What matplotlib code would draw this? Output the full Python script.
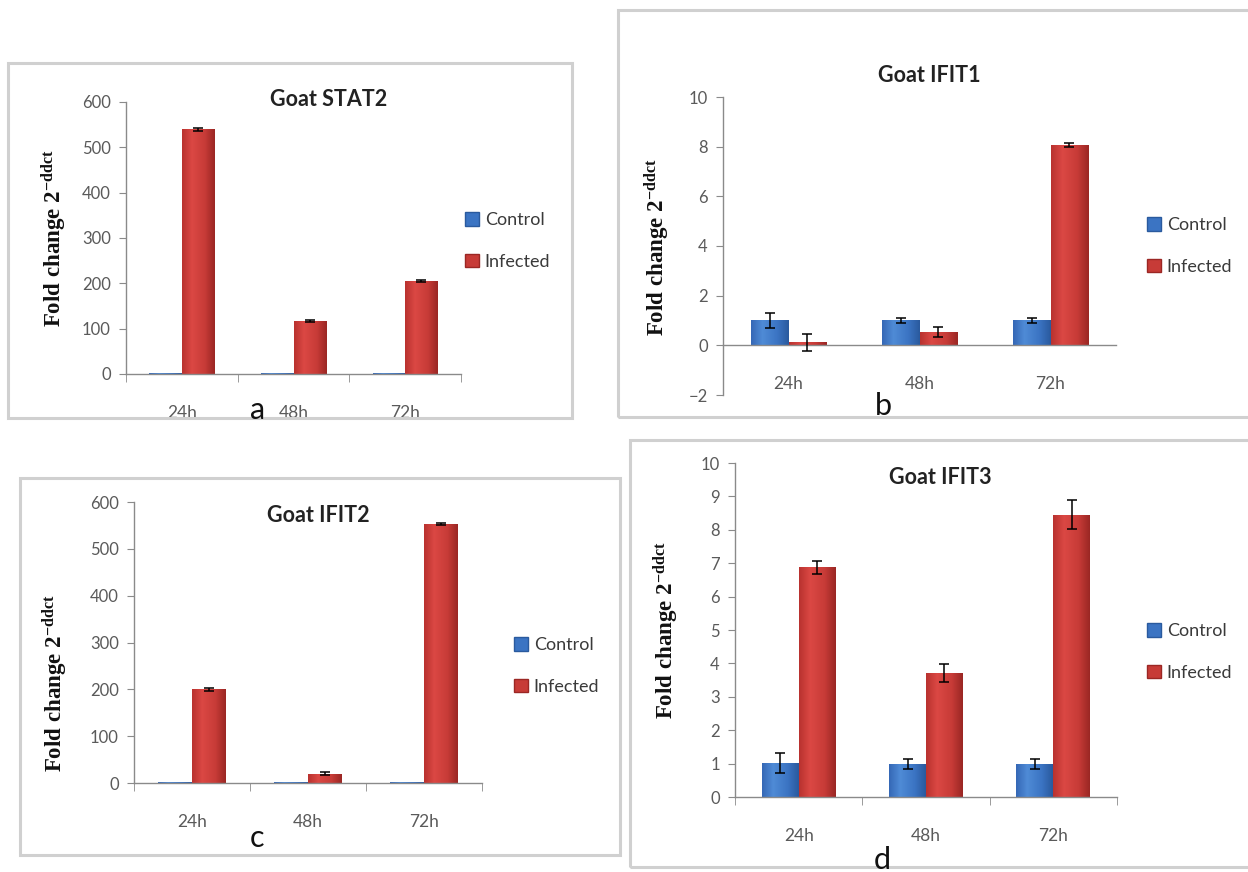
import numpy as np
import matplotlib
matplotlib.use('Agg')
import matplotlib.pyplot as plt
from matplotlib.patches import Rectangle, Patch
from matplotlib.colors import LinearSegmentedColormap

plt.rcParams['font.family'] = ['Lato', 'DejaVu Sans']
plt.rcParams['mathtext.fontset'] = 'custom'
plt.rcParams['mathtext.rm'] = 'Liberation Serif:bold'
plt.rcParams['mathtext.it'] = 'Liberation Serif:bold'
plt.rcParams['mathtext.bf'] = 'Liberation Serif:bold'

# Data
times = ['24h', '48h', '72h']
series = ['Control', 'Infected']

stat2_control = [2, 2, 2]
stat2_infected = [540, 117, 205]
stat2_control_err = [0, 0, 0]
stat2_infected_err = [3, 3, 3]

ifit1_control = [1.0, 1.0, 1.0]
ifit1_infected = [0.12, 0.52, 8.08]
ifit1_control_err = [0.32, 0.12, 0.12]
ifit1_infected_err = [0.35, 0.2, 0.08]

ifit2_control = [2, 2, 2]
ifit2_infected = [200, 20, 553]
ifit2_control_err = [0, 0, 0]
ifit2_infected_err = [3, 3, 3]

ifit3_control = [1.02, 1.0, 1.0]
ifit3_infected = [6.88, 3.7, 8.45]
ifit3_control_err = [0.3, 0.15, 0.15]
ifit3_infected_err = [0.2, 0.27, 0.43]

W, H = 1248, 872
fig = plt.figure(figsize=(W / 100, H / 100), dpi=100)
fig.patch.set_facecolor('white')

red_cmap = LinearSegmentedColormap.from_list('red', [(0, '#b9322f'), (0.3, '#db4844'), (0.7, '#c73b37'), (1, '#9b2724')])
blue_cmap = LinearSegmentedColormap.from_list('blue', [(0, '#3568b6'), (0.3, '#4f8bd6'), (0.7, '#3b74c3'), (1, '#2a5a9e')])

def fx(x):
    return x / W

def fy(y):
    return 1 - y / H

def gradient_bars(ax, bars, cmap):
    grad = np.linspace(0, 1, 64).reshape(1, -1)
    for b in bars:
        x, y = b.get_x(), b.get_y()
        w, h = b.get_width(), b.get_height()
        im = ax.imshow(grad, extent=[x, x + w, y, y + h], aspect='auto', cmap=cmap,
                       zorder=2, interpolation='bilinear')
        im.set_clip_path(b)
        b.set_facecolor('none')

def add_errors(ax, xs, ys, errs):
    xs, ys, errs = np.asarray(xs), np.asarray(ys), np.asarray(errs)
    keep = errs > 0
    if keep.any():
        ax.errorbar(xs[keep], ys[keep], yerr=errs[keep], fmt='none', ecolor='black',
                    elinewidth=1.1, capsize=3.5, capthick=1.1, zorder=3)

# panel layout in pixels: box, axes, title, legend, letter
panels = [
    dict(title='Goat STAT2', ctrl=stat2_control, inf=stat2_infected,
         ctrl_err=stat2_control_err, inf_err=stat2_infected_err,
         box=(8, 63, 572, 418), axes=(126, 102, 461, 374), ylim=(0, 600), yticks=range(0, 601, 100),
         title_xy=(329, 99), leg_xy=(465, 241), ylab_xy=(54, 238), letter='a', letter_xy=(258, 410), ticks=True),
    dict(title='Goat IFIT1', ctrl=ifit1_control, inf=ifit1_infected,
         ctrl_err=ifit1_control_err, inf_err=ifit1_infected_err,
         box=(618, 10, 1262, 417), axes=(723, 97, 1116, 395), ylim=(-2, 10), yticks=range(-2, 11, 2),
         title_xy=(929, 75), leg_xy=(1147, 246), ylab_xy=(657, 247), letter='b', letter_xy=(883, 406), ticks=False),
    dict(title='Goat IFIT2', ctrl=ifit2_control, inf=ifit2_infected,
         ctrl_err=ifit2_control_err, inf_err=ifit2_infected_err,
         box=(20, 478, 620, 855), axes=(134, 502, 482, 783), ylim=(0, 600), yticks=range(0, 601, 100),
         title_xy=(318, 515), leg_xy=(514, 666), ylab_xy=(55, 683), letter='c', letter_xy=(257, 838), ticks=True),
    dict(title='Goat IFIT3', ctrl=ifit3_control, inf=ifit3_infected,
         ctrl_err=ifit3_control_err, inf_err=ifit3_infected_err,
         box=(630, 440, 1262, 867), axes=(735, 463, 1117, 797), ylim=(0, 10), yticks=range(0, 11, 1),
         title_xy=(940, 477), leg_xy=(1147, 652), ylab_xy=(666, 630), letter='d', letter_xy=(882, 860), ticks=True),
]

axis_gray = '#8a8a8a'
text_gray = '#5a5a5a'
x = np.arange(1, len(times) + 1)
bw = 0.29

for p in panels:
    bx0, by0, bx1, by1 = p['box']
    fig.add_artist(Rectangle((fx(bx0), fy(by1)), fx(bx1 - bx0), (by1 - by0) / H,
                             transform=fig.transFigure, fill=False, edgecolor='#d0d0d0', lw=2.2))

    ax0, ay0, ax1, ay1 = p['axes']
    ax = fig.add_axes([fx(ax0), fy(ay1), fx(ax1 - ax0), (ay1 - ay0) / H])
    ax.patch.set_visible(False)

    cb = ax.bar(x - bw / 2, p['ctrl'], bw, color='#3b74c3', lw=0, zorder=2)
    ib = ax.bar(x + bw / 2, p['inf'], bw, color='#c73b37', lw=0, zorder=2)
    gradient_bars(ax, cb, blue_cmap)
    gradient_bars(ax, ib, red_cmap)
    add_errors(ax, x - bw / 2, p['ctrl'], p['ctrl_err'])
    add_errors(ax, x + bw / 2, p['inf'], p['inf_err'])

    ax.set_xlim(0.5, 3.5)
    ax.set_ylim(*p['ylim'])
    ax.set_yticks(list(p['yticks']))
    ax.set_xticks(x)
    ax.set_xticklabels(times)
    ax.set_xticks([0.5, 1.5, 2.5, 3.5], minor=True)

    for s in ['top', 'right']:
        ax.spines[s].set_visible(False)
    ax.spines['left'].set_color(axis_gray)
    ax.spines['bottom'].set_color(axis_gray)
    ax.spines['left'].set_linewidth(1.0)
    ax.spines['bottom'].set_linewidth(1.0)
    ax.spines['bottom'].set_position(('data', 0))

    ax.tick_params(axis='y', length=5, color=axis_gray, labelsize=12, labelcolor=text_gray, pad=6)
    ax.tick_params(axis='x', which='major', length=0, labelsize=12.5, labelcolor=text_gray, pad=22)
    ax.tick_params(axis='x', which='minor', length=6 if p['ticks'] else 0, color=axis_gray, direction='out')

    fig.text(fx(p['title_xy'][0]), fy(p['title_xy'][1]), p['title'], ha='center', va='center',
             fontsize=15.5, fontweight='bold', color='#222222')
    fig.text(fx(p['ylab_xy'][0]), fy(p['ylab_xy'][1]), r'Fold change 2$^{\mathrm{-ddct}}$',
             rotation=90, ha='center', va='center', fontsize=16.5, fontweight='bold',
             family='Liberation Serif', color='#111111')
    fig.text(fx(p['letter_xy'][0]), fy(p['letter_xy'][1]), p['letter'], ha='center', va='center',
             fontsize=22, color='#111111')

    handles = [Patch(facecolor='#3b74c3', edgecolor='#2a5a9e'), Patch(facecolor='#c73b37', edgecolor='#9b2724')]
    ax.legend(handles, series, loc='center left', bbox_to_anchor=(fx(p['leg_xy'][0]), fy(p['leg_xy'][1])),
              bbox_transform=fig.transFigure, frameon=False, fontsize=13, handlelength=0.75,
              handleheight=0.75, handletextpad=0.35, labelspacing=1.4, borderpad=0, borderaxespad=0,
              labelcolor='#3a3a3a')

fig.savefig('out.png', dpi=100, facecolor='white')
